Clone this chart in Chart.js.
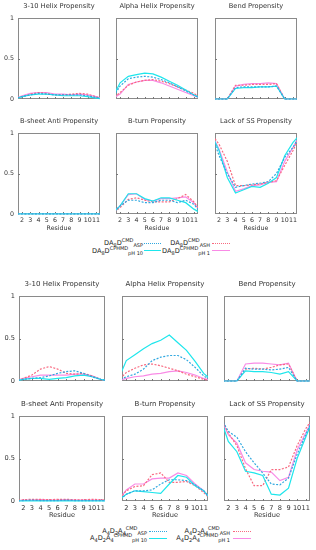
<!DOCTYPE html>
<html>
<head>
<meta charset="utf-8">
<script src="https://cdn.jsdelivr.net/npm/chart.js@4"></script>
<style>
  body { margin: 0; background: #fff; }
  #page { position: relative; width: 316px; height: 550px; overflow: hidden; font-family: "DejaVu Sans", sans-serif; color: #222; }
  canvas { position: absolute; }
  .lg { position: absolute; left: 0; text-align: right; font-size: 6.6px; line-height: 8px; white-space: nowrap; color: #222; }
  .lg sup, .lg sub { font-size: 5px; line-height: 0; position: relative; vertical-align: baseline; }
  .lg sup { top: -2.6px; }
  .lg sub { top: 1.8px; }
  .sw { position: absolute; height: 0; }
</style>
</head>
<body>
<div id="page">
  <div class="lg" style="top:239px; width:143px">DA<sub>8</sub>D<sup>CMD</sup><sub>ASP</sub></div>
  <div class="lg" style="top:247px; width:143px">DA<sub>8</sub>D<sup>CPHMD</sup><sub>pH 10</sub></div>
  <div class="lg" style="top:239px; width:210px">DA<sub>8</sub>D<sup>CMD</sup><sub>ASH</sub></div>
  <div class="lg" style="top:247px; width:210px">DA<sub>8</sub>D<sup>CPHMD</sup><sub>pH 1</sub></div>
  <div class="sw" style="left:144px; top:243px; width:17px; border-top:1.2px dotted #30a8e0"></div>
  <div class="sw" style="left:144px; top:250px; width:17px; border-top:1.2px solid #1ee6ec"></div>
  <div class="sw" style="left:212px; top:243px; width:18px; border-top:1.2px dotted #f86a80"></div>
  <div class="sw" style="left:212px; top:250px; width:18px; border-top:1.2px solid #f98be6"></div>

  <div class="lg" style="top:527px; width:147px">A<sub>4</sub>D<sub>2</sub>A<sub>4</sub><sup>CMD</sup><sub>ASP</sub></div>
  <div class="lg" style="top:534px; width:147px">A<sub>4</sub>D<sub>2</sub>A<sub>4</sub><sup>CPHMD</sup><sub>pH 10</sub></div>
  <div class="lg" style="top:527px; width:230px">A<sub>4</sub>D<sub>2</sub>A<sub>4</sub><sup>CMD</sup><sub>ASH</sub></div>
  <div class="lg" style="top:534px; width:230px">A<sub>4</sub>D<sub>2</sub>A<sub>4</sub><sup>CPHMD</sup><sub>pH 1</sub></div>
  <div class="sw" style="left:149px; top:531px; width:18px; border-top:1.2px dotted #30a8e0"></div>
  <div class="sw" style="left:149px; top:538px; width:18px; border-top:1.2px solid #1ee6ec"></div>
  <div class="sw" style="left:233px; top:531px; width:18px; border-top:1.2px dotted #f86a80"></div>
  <div class="sw" style="left:233px; top:538px; width:18px; border-top:1.2px solid #f98be6"></div>
</div>
<script>
// residues 1 and 12 are the termini (always coil)
const residues = [1, 2, 3, 4, 5, 6, 7, 8, 9, 10, 11, 12];
const xTicks = [2, 3, 4, 5, 6, 7, 8, 9, 10, 11];
const yTicks = [0, 0.5, 1];
const titles = ['3-10 Helix Propensity', 'Alpha Helix Propensity', 'Bend Propensity',
                'B-sheet Anti Propensity', 'B-turn Propensity', 'Lack of SS Propensity'];

// DA8D peptide
const da8d_h310_asp  = [0, 0.03, 0.05, 0.07, 0.06, 0.05, 0.05, 0.05, 0.05, 0.04, 0.02, 0];
const da8d_h310_ph10 = [0, 0.03, 0.05, 0.06, 0.06, 0.05, 0.04, 0.04, 0.04, 0.03, 0.01, 0];
const da8d_h310_ash  = [0, 0.03, 0.06, 0.08, 0.07, 0.05, 0.05, 0.06, 0.07, 0.06, 0.03, 0];
const da8d_h310_ph1  = [0, 0.04, 0.07, 0.08, 0.08, 0.06, 0.06, 0.05, 0.06, 0.05, 0.03, 0];

const da8d_alpha_asp  = [0, 0.16, 0.25, 0.27, 0.28, 0.27, 0.24, 0.20, 0.15, 0.10, 0.05, 0];
const da8d_alpha_ph10 = [0, 0.20, 0.28, 0.30, 0.32, 0.31, 0.27, 0.22, 0.17, 0.11, 0.05, 0];
const da8d_alpha_ash  = [0, 0.08, 0.17, 0.21, 0.23, 0.24, 0.22, 0.19, 0.15, 0.11, 0.07, 0];
const da8d_alpha_ph1  = [0, 0.06, 0.18, 0.21, 0.23, 0.23, 0.20, 0.16, 0.12, 0.08, 0.04, 0];

const da8d_bend_asp  = [0, 0, 0, 0.14, 0.15, 0.15, 0.15, 0.15, 0.16, 0, 0, 0];
const da8d_bend_ph10 = [0, 0, 0, 0.13, 0.14, 0.14, 0.15, 0.15, 0.16, 0, 0, 0];
const da8d_bend_ash  = [0, 0, 0, 0.17, 0.17, 0.18, 0.18, 0.18, 0.19, 0, 0, 0];
const da8d_bend_ph1  = [0, 0, 0, 0.16, 0.18, 0.19, 0.19, 0.20, 0.19, 0, 0, 0];

const da8d_sheet_asp  = [0, 0.002, 0.002, 0.002, 0.002, 0.002, 0.002, 0.002, 0.002, 0.002, 0.002, 0];
const da8d_sheet_ph10 = [0, 0.001, 0.001, 0.001, 0.001, 0.001, 0.001, 0.001, 0.001, 0.001, 0.001, 0];
const da8d_sheet_ash  = [0, 0.006, 0.005, 0.006, 0.005, 0.006, 0.005, 0.006, 0.005, 0.006, 0.005, 0];
const da8d_sheet_ph1  = [0, 0.004, 0.005, 0.004, 0.004, 0.005, 0.004, 0.004, 0.005, 0.004, 0.004, 0];

const da8d_turn_asp  = [0, 0.10, 0.17, 0.17, 0.14, 0.14, 0.17, 0.17, 0.14, 0.17, 0.12, 0];
const da8d_turn_ph10 = [0, 0.10, 0.25, 0.25, 0.19, 0.16, 0.20, 0.20, 0.17, 0.14, 0.06, 0];
const da8d_turn_ash  = [0, 0.08, 0.18, 0.20, 0.17, 0.15, 0.15, 0.15, 0.19, 0.24, 0.15, 0];
const da8d_turn_ph1  = [0, 0.10, 0.24, 0.25, 0.18, 0.16, 0.19, 0.19, 0.20, 0.21, 0.14, 0];

const da8d_coil_asp  = [1, 0.72, 0.50, 0.33, 0.35, 0.37, 0.38, 0.40, 0.50, 0.70, 0.82, 1];
const da8d_coil_ph10 = [1, 0.78, 0.45, 0.26, 0.30, 0.34, 0.33, 0.38, 0.45, 0.72, 0.88, 1];
const da8d_coil_ash  = [1, 0.86, 0.65, 0.35, 0.35, 0.36, 0.37, 0.39, 0.41, 0.60, 0.78, 1];
const da8d_coil_ph1  = [1, 0.80, 0.52, 0.28, 0.31, 0.35, 0.36, 0.39, 0.40, 0.65, 0.82, 1];

// A4D2A4 peptide
const a4d2_h310_asp  = [0, 0.02, 0.03, 0.04, 0.06, 0.09, 0.11, 0.12, 0.09, 0.05, 0.02, 0];
const a4d2_h310_ph10 = [0, 0.02, 0.03, 0.03, 0.02, 0.03, 0.04, 0.06, 0.07, 0.05, 0.02, 0];
const a4d2_h310_ash  = [0, 0.03, 0.07, 0.14, 0.17, 0.14, 0.09, 0.08, 0.09, 0.06, 0.02, 0];
const a4d2_h310_ph1  = [0, 0.03, 0.05, 0.07, 0.07, 0.07, 0.07, 0.08, 0.08, 0.06, 0.02, 0];

const a4d2_alpha_asp  = [0, 0.05, 0.08, 0.14, 0.24, 0.28, 0.30, 0.30, 0.25, 0.16, 0.06, 0];
const a4d2_alpha_ph10 = [0, 0.24, 0.31, 0.38, 0.44, 0.48, 0.54, 0.45, 0.36, 0.23, 0.09, 0];
const a4d2_alpha_ash  = [0, 0.10, 0.15, 0.19, 0.20, 0.18, 0.15, 0.12, 0.08, 0.05, 0.02, 0];
const a4d2_alpha_ph1  = [0, 0.03, 0.05, 0.06, 0.08, 0.09, 0.11, 0.12, 0.10, 0.07, 0.03, 0];

const a4d2_bend_asp  = [0, 0, 0, 0.15, 0.14, 0.14, 0.13, 0.14, 0.16, 0, 0, 0];
const a4d2_bend_ph10 = [0, 0, 0, 0.12, 0.11, 0.11, 0.10, 0.08, 0.11, 0, 0, 0];
const a4d2_bend_ash  = [0, 0, 0, 0.14, 0.15, 0.14, 0.16, 0.19, 0.20, 0, 0, 0];
const a4d2_bend_ph1  = [0, 0, 0, 0.20, 0.21, 0.21, 0.20, 0.19, 0.21, 0, 0, 0];

const a4d2_sheet_asp  = [0, 0.005, 0.010, 0.005, 0.005, 0.005, 0.010, 0.005, 0.005, 0.005, 0.005, 0];
const a4d2_sheet_ph10 = [0, 0.002, 0.002, 0.002, 0.002, 0.002, 0.002, 0.002, 0.002, 0.002, 0.002, 0];
const a4d2_sheet_ash  = [0, 0.015, 0.020, 0.020, 0.015, 0.020, 0.020, 0.015, 0.015, 0.020, 0.015, 0];
const a4d2_sheet_ph1  = [0, 0.010, 0.010, 0.015, 0.010, 0.010, 0.015, 0.010, 0.010, 0.010, 0.010, 0];

const a4d2_turn_asp  = [0, 0.08, 0.12, 0.12, 0.13, 0.20, 0.25, 0.25, 0.24, 0.19, 0.12, 0];
const a4d2_turn_ph10 = [0, 0.08, 0.12, 0.11, 0.10, 0.09, 0.20, 0.30, 0.28, 0.18, 0.12, 0];
const a4d2_turn_ash  = [0, 0.12, 0.17, 0.18, 0.31, 0.33, 0.22, 0.22, 0.23, 0.18, 0.10, 0];
const a4d2_turn_ph1  = [0, 0.13, 0.20, 0.20, 0.26, 0.27, 0.27, 0.33, 0.30, 0.20, 0.12, 0];

const a4d2_coil_asp  = [1, 0.82, 0.75, 0.58, 0.45, 0.33, 0.20, 0.19, 0.27, 0.55, 0.78, 1];
const a4d2_coil_ph10 = [1, 0.70, 0.58, 0.35, 0.33, 0.30, 0.08, 0.07, 0.15, 0.50, 0.75, 1];
const a4d2_coil_ash  = [1, 0.80, 0.65, 0.38, 0.18, 0.18, 0.37, 0.37, 0.40, 0.65, 0.85, 1];
const a4d2_coil_ph1  = [1, 0.78, 0.68, 0.45, 0.37, 0.35, 0.34, 0.24, 0.28, 0.60, 0.80, 1];

// series styles: CMD runs dotted, CpHMD runs solid
const styles = [
  { color: '#30a8e0', dash: [2, 1.5] },  // CMD ASP
  { color: '#1ee6ec', dash: [] },        // CpHMD pH 10
  { color: '#f86a80', dash: [2, 1.5] },  // CMD ASH
  { color: '#f98be6', dash: [] }         // CpHMD pH 1
];

const groups = [
  {
    lefts: [18, 116, 215], tops: [18, 133], w: 82, h: 81, f: 1,
    panels: [
      [da8d_h310_asp, da8d_h310_ph10, da8d_h310_ash, da8d_h310_ph1],
      [da8d_alpha_asp, da8d_alpha_ph10, da8d_alpha_ash, da8d_alpha_ph1],
      [da8d_bend_asp, da8d_bend_ph10, da8d_bend_ash, da8d_bend_ph1],
      [da8d_sheet_asp, da8d_sheet_ph10, da8d_sheet_ash, da8d_sheet_ph1],
      [da8d_turn_asp, da8d_turn_ph10, da8d_turn_ash, da8d_turn_ph1],
      [da8d_coil_asp, da8d_coil_ph10, da8d_coil_ash, da8d_coil_ph1]
    ]
  },
  {
    lefts: [19, 122, 224], tops: [296, 416], w: 86, h: 85, f: 1.05,
    panels: [
      [a4d2_h310_asp, a4d2_h310_ph10, a4d2_h310_ash, a4d2_h310_ph1],
      [a4d2_alpha_asp, a4d2_alpha_ph10, a4d2_alpha_ash, a4d2_alpha_ph1],
      [a4d2_bend_asp, a4d2_bend_ph10, a4d2_bend_ash, a4d2_bend_ph1],
      [a4d2_sheet_asp, a4d2_sheet_ph10, a4d2_sheet_ash, a4d2_sheet_ph1],
      [a4d2_turn_asp, a4d2_turn_ph10, a4d2_turn_ash, a4d2_turn_ph1],
      [a4d2_coil_asp, a4d2_coil_ph10, a4d2_coil_ash, a4d2_coil_ph1]
    ]
  }
];

// gnuplot-like frame with inward tick marks
const framePlugin = {
  id: 'frame',
  beforeDatasetsDraw(chart) {
    const { ctx, chartArea: a, scales } = chart;
    ctx.save();
    ctx.strokeStyle = '#8a8a8a';
    ctx.lineWidth = 1;
    ctx.strokeRect(a.left + 0.5, a.top + 0.5, a.right - a.left - 1, a.bottom - a.top - 1);
    ctx.strokeStyle = '#777';
    ctx.beginPath();
    xTicks.forEach(v => {
      const x = Math.round(scales.x.getPixelForValue(v)) + 0.5;
      ctx.moveTo(x, a.bottom);
      ctx.lineTo(x, a.bottom - 2);
    });
    yTicks.slice(1, -1).forEach(v => {
      const y = Math.round(scales.y.getPixelForValue(v)) + 0.5;
      ctx.moveTo(a.left, y);
      ctx.lineTo(a.left + 2, y);
    });
    ctx.stroke();
    ctx.restore();
  }
};

const page = document.getElementById('page');
const padL = 22, padT = 15, padR = 6;

groups.forEach(g => {
  g.panels.forEach((series, i) => {
    const row = Math.floor(i / 3), col = i % 3;
    const showX = row === 1, showY = col === 0;
    const padB = showX ? Math.round(17.5 * g.f) : 3;
    const canvas = document.createElement('canvas');
    canvas.width = g.w + padL + padR;
    canvas.height = g.h + padT + padB;
    canvas.style.left = (g.lefts[col] - padL) + 'px';
    canvas.style.top = (g.tops[row] - padT) + 'px';
    page.appendChild(canvas);

    new Chart(canvas.getContext('2d'), {
      type: 'line',
      data: {
        datasets: series.map((vals, k) => ({
          data: residues.map((r, j) => ({ x: r, y: vals[j] })),
          borderColor: styles[k].color,
          borderDash: styles[k].dash,
          borderWidth: 1.2,
          pointRadius: 0,
          tension: 0,
          fill: false,
          clip: { left: 0, top: 0, right: 0, bottom: 1 }
        }))
      },
      options: {
        responsive: false,
        animation: false,
        events: [],
        layout: { padding: { left: 0, right: padR, top: 0, bottom: 0 } },
        plugins: {
          legend: { display: false },
          tooltip: { enabled: false },
          title: {
            display: true,
            text: titles[i],
            fullSize: false,
            color: '#333',
            font: { family: 'DejaVu Sans', size: 6.7 * g.f, weight: 'normal', lineHeight: 1 },
            padding: { top: 0, bottom: padT - 6.7 * g.f }
          }
        },
        scales: {
          x: {
            type: 'linear',
            min: 1.5,
            max: 11.5,
            grid: { display: false, drawTicks: false },
            border: { display: false },
            afterBuildTicks: s => { s.ticks = xTicks.map(v => ({ value: v })); },
            afterFit: s => { s.height = padB; s.paddingLeft = 0; s.paddingRight = 0; },
            ticks: {
              display: showX,
              autoSkip: false,
              maxRotation: 0,
              padding: 3,
              color: '#333',
              callback: v => String(v),
              font: { family: 'DejaVu Sans', size: 6.3 * g.f, lineHeight: 1.2 }
            },
            title: {
              display: showX,
              text: 'Residue',
              color: '#333',
              padding: 0,
              font: { family: 'DejaVu Sans', size: 6.3 * g.f, lineHeight: 1 }
            }
          },
          y: {
            min: 0,
            max: 1,
            grid: { display: false, drawTicks: false },
            border: { display: false },
            afterBuildTicks: s => { s.ticks = yTicks.map(v => ({ value: v })); },
            afterFit: s => { s.width = padL; s.paddingTop = 0; s.paddingBottom = 0; },
            ticks: {
              display: showY,
              padding: 4,
              color: '#333',
              callback: v => String(v),
              font: { family: 'DejaVu Sans', size: 6.3 * g.f }
            }
          }
        }
      },
      plugins: [framePlugin]
    });
  });
});
</script>
</body>
</html>
